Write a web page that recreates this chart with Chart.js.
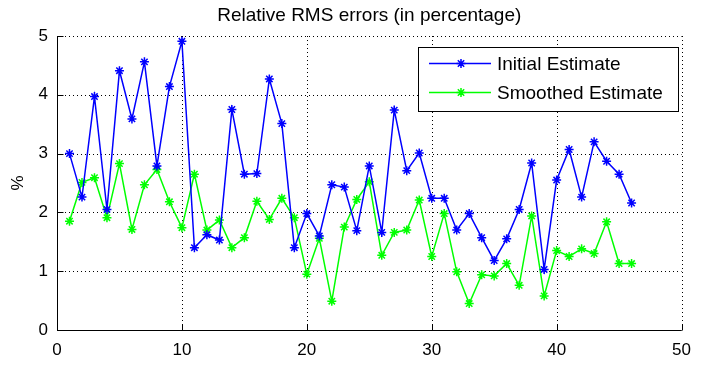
<!DOCTYPE html>
<html>
<head>
<meta charset="utf-8">
<script src="https://cdn.jsdelivr.net/npm/chart.js@4/dist/chart.umd.min.js"></script>
<style>
  html, body { margin: 0; padding: 0; background: #fff; }
  #wrap { width: 701px; height: 365px; }
</style>
</head>
<body>
<div id="wrap"><canvas id="rms"></canvas></div>
<script>
const chartTitle = "Relative RMS errors (in percentage)";
const yLabel = "%";
const seriesNames = ["Initial Estimate", "Smoothed Estimate"];
const seriesColors = ["#0000ff", "#00ff00"];

const runs = [1,2,3,4,5,6,7,8,9,10,11,12,13,14,15,16,17,18,19,20,21,22,23,
  24,25,26,27,28,29,30,31,32,33,34,35,36,37,38,39,40,41,42,43,44,45,46];

const initialErr = [3.00,2.26,3.97,2.05,4.41,3.59,4.56,2.79,4.14,4.91,
  1.40,1.62,1.53,3.75,2.65,2.66,4.27,3.51,1.40,1.98,1.60,2.47,2.43,1.69,
  2.79,1.66,3.74,2.71,3.01,2.24,2.24,1.70,1.98,1.57,1.18,1.55,2.05,2.84,
  1.03,2.55,3.07,2.26,3.20,2.87,2.65,2.16];

const smoothedErr = [1.85,2.51,2.59,1.91,2.83,1.71,2.47,2.73,2.18,1.74,
  2.65,1.70,1.87,1.40,1.57,2.19,1.88,2.24,1.91,0.95,1.56,0.49,1.75,2.22,
  2.52,1.27,1.66,1.70,2.21,1.25,1.98,0.99,0.45,0.94,0.92,1.13,0.76,1.94,
  0.58,1.35,1.25,1.38,1.30,1.84,1.13,1.13];

const xTicks = [0, 10, 20, 30, 40, 50];
const yTicks = [0, 1, 2, 3, 4, 5];

const FONT = '"Liberation Sans", Arial, sans-serif';

function toPoints(ys) {
  return runs.map((x, i) => ({ x: x, y: ys[i] }));
}

// dotted grid, inward ticks, left/bottom axis lines, title, y label and legend box
const matlabAxes = {
  id: 'matlabAxes',
  beforeDatasetsDraw(chart) {
    const { ctx, chartArea: a, scales: { x, y } } = chart;
    ctx.save();
    ctx.strokeStyle = '#000';
    ctx.lineWidth = 1;
    ctx.setLineDash([1, 3]);
    xTicks.forEach(v => {
      const px = Math.round(x.getPixelForValue(v)) + 0.5;
      ctx.beginPath(); ctx.moveTo(px, a.top); ctx.lineTo(px, a.bottom); ctx.stroke();
    });
    yTicks.forEach(v => {
      const py = Math.round(y.getPixelForValue(v)) + 0.5;
      ctx.beginPath(); ctx.moveTo(a.left, py); ctx.lineTo(a.right, py); ctx.stroke();
    });
    ctx.setLineDash([]);
    const L = Math.round(a.left) + 0.5, B = Math.round(a.bottom) + 0.5;
    ctx.beginPath(); ctx.moveTo(L, a.top); ctx.lineTo(L, B); ctx.lineTo(a.right, B); ctx.stroke();
    xTicks.forEach(v => {
      const px = Math.round(x.getPixelForValue(v)) + 0.5;
      ctx.beginPath(); ctx.moveTo(px, B); ctx.lineTo(px, B - 6); ctx.stroke();
    });
    yTicks.forEach(v => {
      const py = Math.round(y.getPixelForValue(v)) + 0.5;
      ctx.beginPath(); ctx.moveTo(L, py); ctx.lineTo(L + 6, py); ctx.stroke();
    });

    ctx.fillStyle = '#000';
    ctx.font = '19px ' + FONT;
    ctx.textAlign = 'center';
    ctx.textBaseline = 'middle';
    ctx.fillText(chartTitle, (a.left + a.right) / 2, 16);
    ctx.font = '17px ' + FONT;
    ctx.translate(18, (a.top + a.bottom) / 2);
    ctx.rotate(-Math.PI / 2);
    ctx.fillText(yLabel, 0, 0);
    ctx.restore();
  },
  afterDraw(chart) {
    const { ctx } = chart;
    const box = { x: 418, y: 47, w: 260, h: 64 };
    ctx.save();
    ctx.fillStyle = '#fff';
    ctx.fillRect(box.x, box.y, box.w, box.h);
    ctx.strokeStyle = '#000';
    ctx.lineWidth = 1;
    ctx.strokeRect(box.x + 0.5, box.y + 0.5, box.w, box.h);
    ctx.font = '19px ' + FONT;
    ctx.textBaseline = 'middle';
    ctx.textAlign = 'left';
    chart.data.datasets.forEach((ds, i) => {
      const ry = box.y + 16.5 + i * 29;
      ctx.strokeStyle = ds.borderColor;
      ctx.fillStyle = ds.borderColor;
      ctx.lineWidth = 1.5;
      ctx.beginPath(); ctx.moveTo(box.x + 11, ry); ctx.lineTo(box.x + 73, ry); ctx.stroke();
      Chart.helpers.drawPoint(ctx, { pointStyle: 'star', radius: 4.5, borderWidth: 1.5 }, box.x + 43, ry);
      ctx.fillStyle = '#000';
      ctx.fillText(ds.label, box.x + 79, ry + 1);
    });
    ctx.restore();
  }
};

new Chart(document.getElementById('rms'), {
  type: 'line',
  data: {
    datasets: [
      { label: seriesNames[0], data: toPoints(initialErr) },
      { label: seriesNames[1], data: toPoints(smoothedErr) }
    ].map((ds, i) => Object.assign(ds, {
      borderColor: seriesColors[i],
      backgroundColor: seriesColors[i],
      borderWidth: 1.5,
      pointStyle: 'star',
      pointRadius: 4.5,
      pointBorderWidth: 1.5,
      tension: 0,
      fill: false
    }))
  },
  options: {
    responsive: true,
    maintainAspectRatio: false,
    animation: false,
    layout: { padding: { top: 36, right: 13, left: 0, bottom: 0 } },
    plugins: {
      legend: { display: false },
      title: { display: false },
      tooltip: { enabled: false }
    },
    scales: {
      x: {
        type: 'linear',
        min: 0, max: 50,
        afterFit: s => { s.height = 35; },
        afterBuildTicks: s => { s.ticks = xTicks.map(v => ({ value: v })); },
        grid: { display: false, drawTicks: false },
        border: { display: false },
        ticks: { color: '#000', padding: 10, font: { family: FONT, size: 17 } }
      },
      y: {
        min: 0, max: 5,
        afterFit: s => { s.width = 57; },
        afterBuildTicks: s => { s.ticks = yTicks.map(v => ({ value: v })); },
        grid: { display: false, drawTicks: false },
        border: { display: false },
        ticks: { color: '#000', padding: 9, font: { family: FONT, size: 17 } }
      }
    }
  },
  plugins: [matlabAxes]
});
</script>
</body>
</html>
